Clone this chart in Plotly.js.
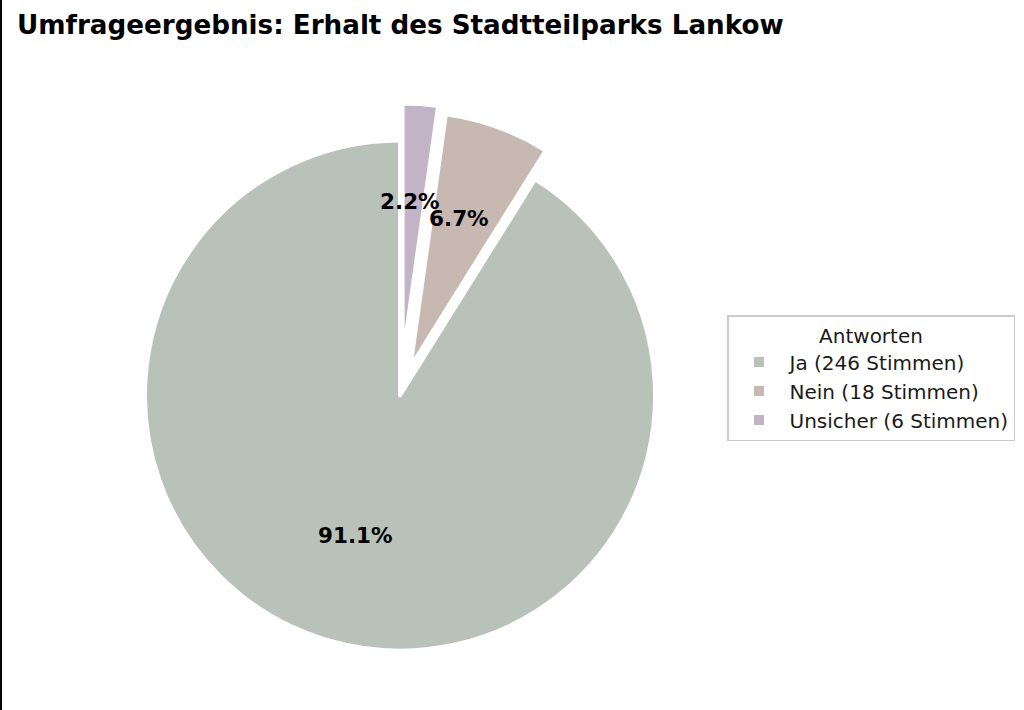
<!DOCTYPE html>
<html><head><meta charset="utf-8">
<script src="https://cdn.plot.ly/plotly-3.0.1.min.js"></script>
<style>html,body{margin:0;padding:0;background:#fff}#chart{width:1024px;height:710px}</style>
</head><body><div id="chart"></div>
<script>
const categories = ["Ja", "Nein", "Unsicher"];
const votes = [246, 18, 6];
const legendLabels = ["Ja (246 Stimmen)", "Nein (18 Stimmen)", "Unsicher (6 Stimmen)"];
const pulls = [0, 0.12, 0.145];
const colors = ["#b8c2b8", "#c8b8b2", "#c2b4c6"];

const W = 1024, H = 710;
const cx = 400, cy = 395.5, R = 255;
const maxPull = Math.max(...pulls);
const half = R * (1 + maxPull);
const domX = [(cx - half) / W, (cx + half) / W];
const domY = [(H - (cy + half)) / H, (H - (cy - half)) / H];

const total = votes.reduce((a, b) => a + b, 0);
// counterclockwise from 12 o'clock (matplotlib startangle=90): Plotly's ccw mode
// places the first slice ending at `rotation`, so rotate by the span of the others
const rotation = 360 * (total - votes[0]) / total;

const annotations = [];
let start = 90;
votes.forEach((v, i) => {
  const span = v / total * 360;
  const mid = (start + span / 2) * Math.PI / 180;
  const d = (0.6 + pulls[i]) * 253;
  const px = cx + d * Math.cos(mid) - 3;
  const py = cy - d * Math.sin(mid) - 6;
  annotations.push({
    xref: "paper", yref: "paper", x: px / W, y: 1 - py / H,
    text: "<b>" + (v / total * 100).toFixed(1) + "%</b>",
    showarrow: false, xanchor: "center", yanchor: "middle",
    font: {family: "DejaVu Sans", size: 21.5, color: "#000"}
  });
  start += span;
});

const data = [{
  type: "pie",
  labels: legendLabels,
  values: votes,
  sort: false,
  direction: "counterclockwise",
  rotation: rotation,
  pull: pulls,
  marker: {colors: colors, line: {color: "#ffffff", width: 4}},
  textinfo: "none",
  hoverinfo: "label+percent",
  domain: {x: domX, y: domY}
}];

const layout = {
  width: W, height: H,
  margin: {l: 0, r: 0, t: 0, b: 0},
  paper_bgcolor: "#fff",
  font: {family: "DejaVu Sans", color: "#000"},
  title: {
    text: "<b>Umfrageergebnis: Erhalt des Stadtteilparks Lankow</b>",
    x: 17 / W, xanchor: "left", xref: "paper",
    y: 1 - 25 / H, yanchor: "middle", yref: "paper",
    font: {family: "DejaVu Sans", size: 26.2, color: "#000"}
  },
  showlegend: true,
  legend: {
    x: 727 / W, xanchor: "left", y: 1 - 315 / H, yanchor: "top",
    bordercolor: "#cccccc", borderwidth: 1.5, bgcolor: "#fff",
    font: {family: "DejaVu Sans", size: 20, color: "#1a1a1a"},
    title: {text: "Antworten", side: "top center", font: {family: "DejaVu Sans", size: 20, color: "#1a1a1a"}},
    tracegroupgap: 0, itemsizing: "constant", itemwidth: 51
  },
  annotations: annotations,
  shapes: [{type: "line", xref: "paper", yref: "paper", x0: 0.001, x1: 0.001, y0: 0, y1: 1,
            line: {color: "#000", width: 2}}]
};

Plotly.newPlot("chart", data, layout, {displayModeBar: false, staticPlot: true});
</script>
</body></html>
